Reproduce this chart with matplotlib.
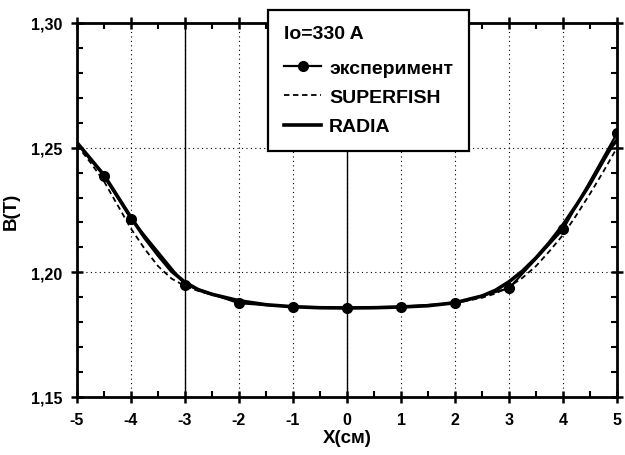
import matplotlib

matplotlib.use("Agg")
import matplotlib.pyplot as plt
from matplotlib.ticker import FuncFormatter, MultipleLocator

plt.rcParams["font.family"] = ["Liberation Sans", "DejaVu Sans"]
plt.rcParams["font.weight"] = "bold"
plt.rcParams["axes.unicode_minus"] = False

# measured field, Io = 330 A
x_exp = [-4.5, -4, -3, -2, -1, 0, 1, 2, 3, 4, 5]
b_exp = [1.2385, 1.2215, 1.1950, 1.1876, 1.1862, 1.1858, 1.1862, 1.1876, 1.1936, 1.2172, 1.2558]

# RADIA calculation
x_radia = [-5, -4.75, -4.5, -4.25, -4, -3.75, -3.5, -3.25, -3, -2.75, -2.5, -2, -1.5, -1,
           -0.5, 0, 0.5, 1, 1.5, 2, 2.5, 2.75, 3, 3.25, 3.5, 3.75, 4, 4.25, 4.5, 4.75, 4.9, 5]
b_radia = [1.2520, 1.2455, 1.2390, 1.2305, 1.2220, 1.2140, 1.2070, 1.2005, 1.1960, 1.1930,
           1.1912, 1.1886, 1.1870, 1.1862, 1.1858, 1.1857, 1.1858, 1.1861, 1.1866, 1.1878,
           1.1905, 1.1928, 1.1962, 1.2005, 1.2058, 1.2120, 1.2190, 1.2270, 1.2355, 1.2450,
           1.2505, 1.2530]

# SUPERFISH calculation
x_sf = [-5, -4.75, -4.5, -4.25, -4, -3.75, -3.5, -3.25, -3, -2.75, -2.5, -2, -1.5, -1,
        -0.5, 0, 0.5, 1, 1.5, 2, 2.5, 2.75, 3, 3.25, 3.5, 3.75, 4, 4.25, 4.5, 4.75, 5]
b_sf = [1.2510, 1.2440, 1.2365, 1.2270, 1.2175, 1.2095, 1.2025, 1.1975, 1.1945, 1.1925,
        1.1910, 1.1885, 1.1870, 1.1862, 1.1858, 1.1857, 1.1858, 1.1861, 1.1866, 1.1876,
        1.1898, 1.1915, 1.1942, 1.1978, 1.2025, 1.2085, 1.2150, 1.2230, 1.2315, 1.2405,
        1.2500]

fig = plt.figure(figsize=(6.25, 4.56), dpi=100)
ax = fig.add_axes([0.1232, 0.1272, 0.8640, 0.8202])

ax.plot(x_exp, b_exp, color="black", lw=1.6, marker="o", ms=7, label="эксперимент")
ax.plot(x_sf, b_sf, color="black", lw=1.3, ls=(0, (3, 2)), label="SUPERFISH")
ax.plot(x_radia, b_radia, color="black", lw=2.6, label="RADIA")

ax.set_xlim(-5, 5)
ax.set_ylim(1.15, 1.30)
ax.xaxis.set_major_locator(MultipleLocator(1))
ax.xaxis.set_minor_locator(MultipleLocator(0.5))
ax.yaxis.set_major_locator(MultipleLocator(0.05))
ax.yaxis.set_minor_locator(MultipleLocator(0.01))
ax.yaxis.set_major_formatter(FuncFormatter(lambda v, p: f"{v:.2f}".replace(".", ",")))
ax.xaxis.set_major_formatter(FuncFormatter(lambda v, p: f"{v:.0f}"))

ax.grid(True, which="major", color="black", ls=(0, (1, 3)), lw=0.8)
for xv in (-3, 0):
    ax.axvline(xv, color="black", lw=1.0, zorder=0.5)

for s in ax.spines.values():
    s.set_linewidth(2.0)
ax.tick_params(which="major", direction="inout", length=9, width=1.8,
               top=True, right=True, labelsize=11.5, pad=6)
ax.tick_params(which="minor", direction="in", length=4, width=1.5, top=True, right=True)

ax.set_xlabel("X(см)", fontsize=13.5, fontweight="bold", labelpad=2)
ax.set_ylabel("B(T)", fontsize=13.5, fontweight="bold", labelpad=8)

leg = fig.legend(loc="upper left", bbox_to_anchor=(0.4288, 0.976), borderaxespad=0,
                 title="Io=330 A",
                 prop={"size": 14, "weight": "bold"},
                 title_fontproperties={"size": 14, "weight": "bold"},
                 frameon=True, fancybox=False, edgecolor="black", framealpha=1,
                 handlelength=1.95, handletextpad=0.4, borderpad=0.8, labelspacing=0.6,
                 alignment="left")
leg.get_frame().set_linewidth(1.6)
leg._legend_box.sep = 12

fig.savefig("out.png", dpi=100)
